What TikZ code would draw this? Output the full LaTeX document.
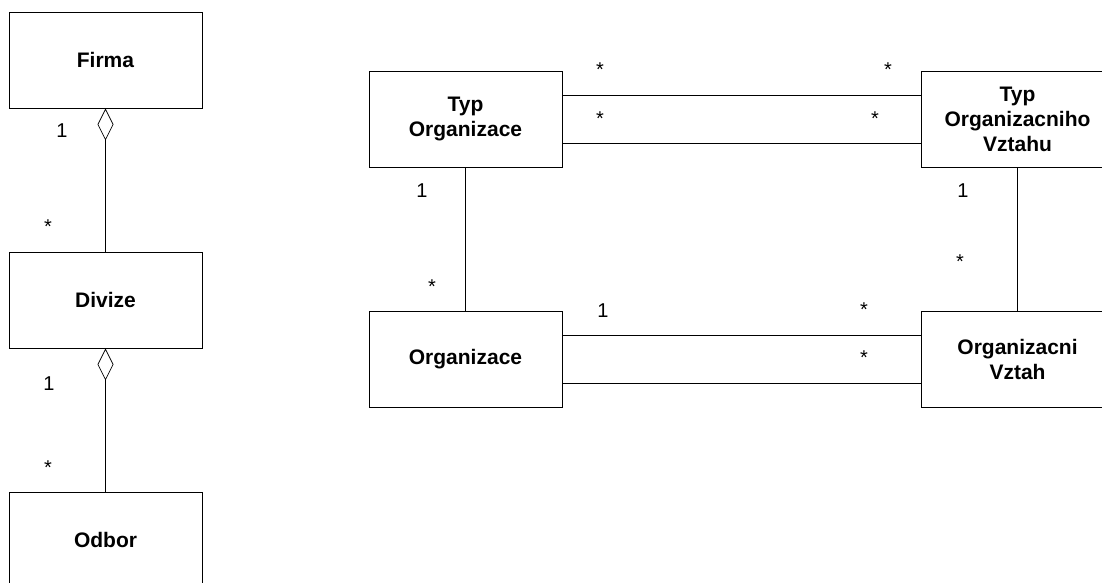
\documentclass[tikz,border=0pt]{standalone}
\usepackage{fontspec}
\setmainfont{Liberation Sans}
\usetikzlibrary{arrows.meta}
\begin{document}
\begin{tikzpicture}[x=1pt,y=-1pt,
    cls/.style = {draw,line width=0.9pt,minimum width=193pt,minimum height=96pt,
                  align=center,inner sep=0pt,font=\bfseries\fontsize{21}{25}\selectfont},
    assoc/.style = {line width=0.7pt},
    aggr/.style = {line width=0.7pt,{Diamond[open,length=32pt,width=16pt,line width=0.7pt]}-},
    mult/.style = {anchor=base,inner sep=0pt,font=\fontsize{20}{23}\selectfont}]
                    \clip (0,0) rectangle (1102,582);

                    \node[cls] (firma)      at (105.5,60)   {Firma};
                    \node[cls] (divize)     at (105.5,300)  {Divize};
                    \node[cls] (odbor)      at (105.5,540)  {Odbor};

                    \node[cls] (typorg)     at (465.5,119)  {Typ\\Organizace};
                    \node[cls] (typvztah)   at (1017.5,119) {Typ\\Organizacniho\\Vztahu};
                    \node[cls] (org)        at (465.5,359)  {Organizace};
                    \node[cls] (orgvztah)   at (1017.5,359) {Organizacni\\Vztah};

                    \draw[aggr] (firma.south) -- (divize.north);
                    \draw[aggr] (divize.south) -- (odbor.north);

                    \draw[assoc] ([yshift=24pt]typorg.east) -- ([yshift=24pt]typvztah.west);
                    \draw[assoc] ([yshift=-24pt]typorg.east) -- ([yshift=-24pt]typvztah.west);
                    \draw[assoc] (typorg.south) -- (org.north);
                    \draw[assoc] (typvztah.south) -- (orgvztah.north);
                    \draw[assoc] ([yshift=24pt]org.east) -- ([yshift=24pt]orgvztah.west);
                    \draw[assoc] ([yshift=-24pt]org.east) -- ([yshift=-24pt]orgvztah.west);

                    \node[mult] (m1)  at (62,137)  {1};
                    \node[mult] (m2)  at (48,233)  {*};
                    \node[mult] (m3)  at (49,390)  {1};
                    \node[mult] (m4)  at (48,474)  {*};

                    \node[mult] (m5)  at (600,76)  {*};
                    \node[mult] (m6)  at (888,76)  {*};
                    \node[mult] (m7)  at (600,125) {*};
                    \node[mult] (m8)  at (875,125) {*};
                    \node[mult] (m9)  at (422,197) {1};
                    \node[mult] (m10) at (432,293) {*};
                    \node[mult] (m11) at (963,197) {1};
                    \node[mult] (m12) at (960,268) {*};
                    \node[mult] (m13) at (603,317) {1};
                    \node[mult] (m14) at (864,316) {*};
                    \node[mult] (m15) at (864,364) {*};

                \end{tikzpicture}
\end{document}
